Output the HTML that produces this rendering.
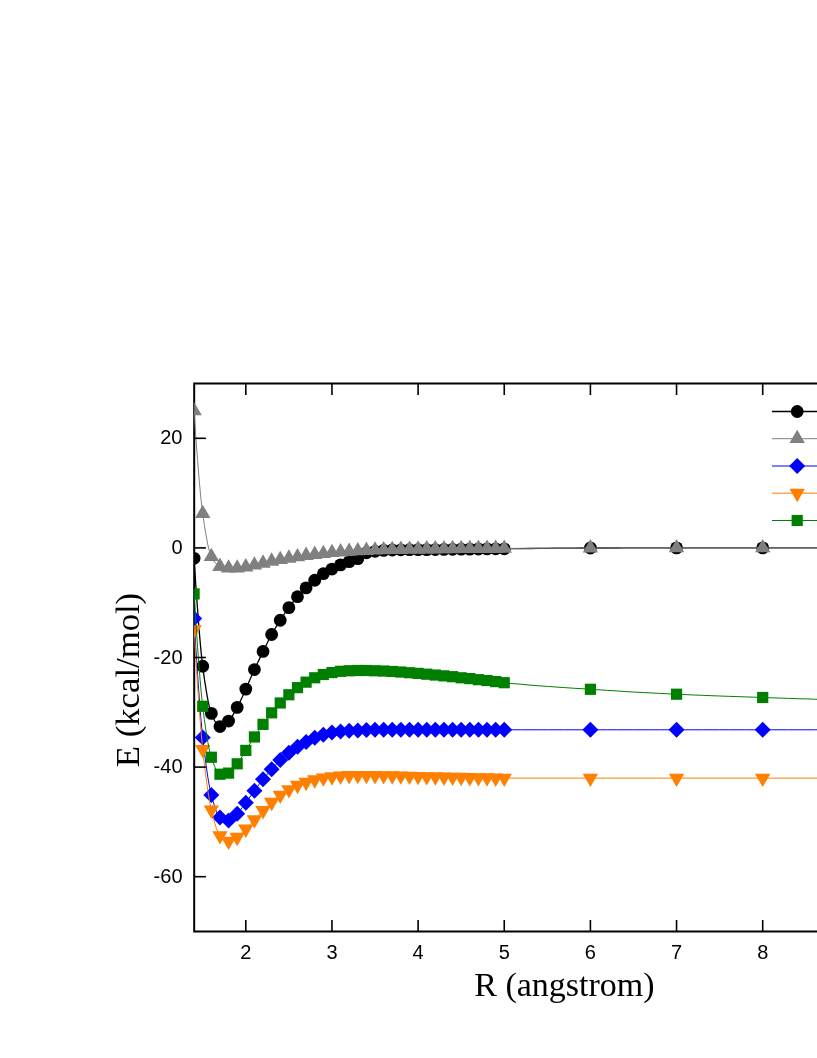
<!DOCTYPE html>
<html><head><meta charset="utf-8"><title>plot</title>
<style>
html,body{margin:0;padding:0;background:#fff;}
body{width:817px;height:1058px;overflow:hidden;}
svg{display:block;will-change:transform;}
.tk{font-family:"Liberation Sans",sans-serif;font-size:20px;fill:#000;}
.ax{font-family:"Liberation Serif",serif;font-size:34px;fill:#000;}
.ay{font-family:"Liberation Serif",serif;font-size:34.7px;fill:#000;}
</style></head><body>
<svg width="817" height="1058" viewBox="0 0 817 1058">
<rect width="817" height="1058" fill="#fff"/>
<defs><clipPath id="c"><rect x="194.20" y="383.50" width="700" height="548.00"/></clipPath></defs>

<path d="M830 383.5H194.2V931.5H830" fill="none" stroke="#000" stroke-width="2"/>
<g clip-path="url(#c)">
<polyline points="194.1,558.3 195.8,585.2 197.6,609.9 199.3,632.1 201.0,651.1 202.7,666.3 204.4,678.9 206.2,690.3 207.9,700.1 209.6,708.0 211.3,713.4 213.1,717.4 214.8,721.0 216.5,723.9 218.2,725.8 220.0,726.5 221.7,726.2 223.4,725.4 225.1,724.1 226.8,722.6 228.6,721.1 230.3,719.1 232.0,716.6 233.7,713.7 235.5,710.5 237.2,707.4 238.9,704.1 240.6,700.5 242.4,696.8 244.1,692.9 245.8,689.1 247.5,685.3 249.2,681.3 251.0,677.3 252.7,673.4 254.4,669.6 256.1,665.8 257.9,662.2 259.6,658.6 261.3,655.0 263.0,651.5 264.8,648.0 266.5,644.5 268.2,641.0 269.9,637.7 271.6,634.5 273.4,631.4 275.1,628.5 276.8,625.7 278.5,622.9 280.3,620.2 282.0,617.6 283.7,615.0 285.4,612.5 287.2,610.0 288.9,607.6 290.6,605.3 292.3,603.0 294.0,600.8 295.8,598.7 297.5,596.7 299.2,594.8 300.9,593.0 302.7,591.2 304.4,589.6 306.1,587.9 307.8,586.3 309.6,584.7 311.3,583.2 313.0,581.7 314.7,580.2 316.4,578.8 318.2,577.4 319.9,576.1 321.6,574.8 323.3,573.7 325.1,572.6 326.8,571.7 328.5,570.8 330.2,569.9 332.0,569.1 333.7,568.2 335.4,567.3 337.1,566.5 338.8,565.7 340.6,564.9 342.3,564.2 344.0,563.5 345.7,562.9 347.5,562.2 349.2,561.6 350.9,561.0 352.6,560.5 354.3,559.9 356.1,559.4 357.8,558.6 359.5,557.6 361.2,556.3 363.0,554.8 364.7,553.6 366.4,552.8 368.1,552.4 369.9,552.1 371.6,551.8 373.3,551.5 375.0,551.3 376.7,551.1 378.5,550.9 380.2,550.7 381.9,550.5 383.6,550.4 385.4,550.3 387.1,550.2 388.8,550.1 390.5,550.0 392.3,550.0 394.0,549.9 395.7,549.9 397.4,549.9 399.1,549.8 400.9,549.8 402.6,549.8 404.3,549.8 406.0,549.7 407.8,549.7 409.5,549.7 411.2,549.7 412.9,549.7 414.7,549.7 416.4,549.7 418.1,549.7 419.8,549.6 421.5,549.6 423.3,549.6 425.0,549.6 426.7,549.6 428.4,549.6 430.2,549.6 431.9,549.6 433.6,549.6 435.3,549.5 437.1,549.5 438.8,549.5 440.5,549.5 442.2,549.5 443.9,549.4 445.7,549.4 447.4,549.4 449.1,549.4 450.8,549.3 452.6,549.3 454.3,549.3 456.0,549.3 457.7,549.3 459.5,549.2 461.2,549.2 462.9,549.2 464.6,549.2 466.3,549.1 468.1,549.1 469.8,549.1 471.5,549.1 473.2,549.1 475.0,549.0 476.7,549.0 478.4,549.0 480.1,549.0 481.9,548.9 483.6,548.9 485.3,548.9 487.0,548.9 488.7,548.9 490.5,548.9 492.2,548.9 493.9,548.8 495.6,548.8 497.4,548.8 499.1,548.8 500.8,548.8 502.5,548.8 504.3,548.8 512.9,548.7 521.5,548.6 530.1,548.5 538.7,548.4 547.3,548.3 555.9,548.2 564.6,548.2 573.2,548.1 581.8,548.0 590.4,548.0 599.0,548.0 607.6,548.0 616.2,548.0 624.9,547.9 633.5,547.9 642.1,547.9 650.7,547.9 659.3,547.9 667.9,547.9 676.5,547.9 685.2,547.9 693.8,547.9 702.4,547.9 711.0,547.9 719.6,547.9 728.2,547.9 736.9,547.9 745.5,547.9 754.1,547.9 762.7,547.9 771.3,547.9 779.9,547.9 788.5,547.9 797.2,547.9 805.8,547.9 814.4,547.9 823.0,547.9 831.6,547.9 840.2,547.9 848.8,547.9" fill="none" stroke="#000000" stroke-width="1.3"/>
<circle cx="194.11" cy="558.31" r="6.4" fill="#000000"/>
<circle cx="202.73" cy="666.27" r="6.4" fill="#000000"/>
<circle cx="211.34" cy="713.40" r="6.4" fill="#000000"/>
<circle cx="219.96" cy="726.55" r="6.4" fill="#000000"/>
<circle cx="228.57" cy="721.07" r="6.4" fill="#000000"/>
<circle cx="237.19" cy="707.37" r="6.4" fill="#000000"/>
<circle cx="245.80" cy="689.12" r="6.4" fill="#000000"/>
<circle cx="254.42" cy="669.56" r="6.4" fill="#000000"/>
<circle cx="263.03" cy="651.47" r="6.4" fill="#000000"/>
<circle cx="271.64" cy="634.48" r="6.4" fill="#000000"/>
<circle cx="280.26" cy="620.24" r="6.4" fill="#000000"/>
<circle cx="288.88" cy="607.63" r="6.4" fill="#000000"/>
<circle cx="297.49" cy="596.67" r="6.4" fill="#000000"/>
<circle cx="306.11" cy="587.90" r="6.4" fill="#000000"/>
<circle cx="314.72" cy="580.23" r="6.4" fill="#000000"/>
<circle cx="323.34" cy="573.66" r="6.4" fill="#000000"/>
<circle cx="331.95" cy="569.05" r="6.4" fill="#000000"/>
<circle cx="340.57" cy="564.89" r="6.4" fill="#000000"/>
<circle cx="349.18" cy="561.60" r="6.4" fill="#000000"/>
<circle cx="357.80" cy="558.64" r="6.4" fill="#000000"/>
<circle cx="366.41" cy="552.83" r="6.4" fill="#000000"/>
<circle cx="375.03" cy="551.30" r="6.4" fill="#000000"/>
<circle cx="383.64" cy="550.37" r="6.4" fill="#000000"/>
<circle cx="392.25" cy="549.98" r="6.4" fill="#000000"/>
<circle cx="400.87" cy="549.82" r="6.4" fill="#000000"/>
<circle cx="409.49" cy="549.71" r="6.4" fill="#000000"/>
<circle cx="418.10" cy="549.65" r="6.4" fill="#000000"/>
<circle cx="426.72" cy="549.60" r="6.4" fill="#000000"/>
<circle cx="435.33" cy="549.54" r="6.4" fill="#000000"/>
<circle cx="443.95" cy="549.43" r="6.4" fill="#000000"/>
<circle cx="452.56" cy="549.32" r="6.4" fill="#000000"/>
<circle cx="461.18" cy="549.22" r="6.4" fill="#000000"/>
<circle cx="469.79" cy="549.11" r="6.4" fill="#000000"/>
<circle cx="478.41" cy="549.00" r="6.4" fill="#000000"/>
<circle cx="487.02" cy="548.89" r="6.4" fill="#000000"/>
<circle cx="495.64" cy="548.83" r="6.4" fill="#000000"/>
<circle cx="504.25" cy="548.78" r="6.4" fill="#000000"/>
<circle cx="590.40" cy="548.01" r="6.4" fill="#000000"/>
<circle cx="676.55" cy="547.90" r="6.4" fill="#000000"/>
<circle cx="762.70" cy="547.90" r="6.4" fill="#000000"/>
<circle cx="848.85" cy="547.90" r="6.4" fill="#000000"/>
<polyline points="194.1,410.9 195.8,436.6 197.6,460.3 199.3,481.5 201.0,499.4 202.7,513.6 204.4,525.4 206.2,536.0 207.9,545.0 209.6,552.1 211.3,556.7 213.1,559.7 214.8,562.2 216.5,564.2 218.2,565.7 220.0,566.5 221.7,567.1 223.4,567.5 225.1,567.9 226.8,568.1 228.6,568.2 230.3,568.2 232.0,568.2 233.7,568.2 235.5,568.2 237.2,568.2 238.9,568.1 240.6,567.9 242.4,567.7 244.1,567.4 245.8,567.1 247.5,566.8 249.2,566.4 251.0,566.0 252.7,565.6 254.4,565.2 256.1,564.8 257.9,564.4 259.6,564.0 261.3,563.6 263.0,563.2 264.8,562.9 266.5,562.5 268.2,562.1 269.9,561.7 271.6,561.3 273.4,561.0 275.1,560.6 276.8,560.3 278.5,560.0 280.3,559.7 282.0,559.4 283.7,559.1 285.4,558.8 287.2,558.6 288.9,558.3 290.6,558.0 292.3,557.8 294.0,557.5 295.8,557.2 297.5,556.9 299.2,556.7 300.9,556.4 302.7,556.1 304.4,555.8 306.1,555.6 307.8,555.3 309.6,555.1 311.3,554.9 313.0,554.7 314.7,554.5 316.4,554.3 318.2,554.1 319.9,554.0 321.6,553.8 323.3,553.7 325.1,553.5 326.8,553.3 328.5,553.1 330.2,552.9 332.0,552.7 333.7,552.6 335.4,552.4 337.1,552.3 338.8,552.1 340.6,552.0 342.3,551.9 344.0,551.8 345.7,551.6 347.5,551.5 349.2,551.4 350.9,551.3 352.6,551.2 354.3,551.1 356.1,551.0 357.8,550.9 359.5,550.8 361.2,550.8 363.0,550.7 364.7,550.6 366.4,550.5 368.1,550.5 369.9,550.4 371.6,550.3 373.3,550.3 375.0,550.2 376.7,550.1 378.5,550.1 380.2,550.0 381.9,550.0 383.6,549.9 385.4,549.9 387.1,549.8 388.8,549.8 390.5,549.7 392.3,549.7 394.0,549.7 395.7,549.6 397.4,549.6 399.1,549.6 400.9,549.5 402.6,549.5 404.3,549.5 406.0,549.4 407.8,549.4 409.5,549.4 411.2,549.4 412.9,549.3 414.7,549.3 416.4,549.3 418.1,549.3 419.8,549.2 421.5,549.2 423.3,549.2 425.0,549.1 426.7,549.1 428.4,549.1 430.2,549.1 431.9,549.0 433.6,549.0 435.3,549.0 437.1,549.0 438.8,548.9 440.5,548.9 442.2,548.9 443.9,548.9 445.7,548.9 447.4,548.9 449.1,548.9 450.8,548.8 452.6,548.8 454.3,548.8 456.0,548.8 457.7,548.8 459.5,548.7 461.2,548.7 462.9,548.7 464.6,548.7 466.3,548.7 468.1,548.7 469.8,548.7 471.5,548.7 473.2,548.6 475.0,548.6 476.7,548.6 478.4,548.6 480.1,548.6 481.9,548.6 483.6,548.6 485.3,548.6 487.0,548.6 488.7,548.5 490.5,548.5 492.2,548.5 493.9,548.5 495.6,548.5 497.4,548.5 499.1,548.5 500.8,548.5 502.5,548.5 504.3,548.4 512.9,548.4 521.5,548.3 530.1,548.3 538.7,548.2 547.3,548.2 555.9,548.1 564.6,548.1 573.2,548.1 581.8,548.0 590.4,548.0 599.0,548.0 607.6,548.0 616.2,548.0 624.9,547.9 633.5,547.9 642.1,547.9 650.7,547.9 659.3,547.9 667.9,547.9 676.5,547.9 685.2,547.9 693.8,547.9 702.4,547.9 711.0,547.9 719.6,547.9 728.2,547.9 736.9,547.9 745.5,547.9 754.1,547.9 762.7,547.9 771.3,547.9 779.9,547.9 788.5,547.9 797.2,547.9 805.8,547.9 814.4,547.9 823.0,547.9 831.6,547.9 840.2,547.9 848.8,547.9" fill="none" stroke="#808080" stroke-width="1"/>
<path d="M194.11 401.90L201.81 415.30L186.41 415.30Z" fill="#808080"/>
<path d="M202.73 504.65L210.43 518.05L195.03 518.05Z" fill="#808080"/>
<path d="M211.34 547.67L219.04 561.07L203.64 561.07Z" fill="#808080"/>
<path d="M219.96 557.53L227.66 570.93L212.26 570.93Z" fill="#808080"/>
<path d="M228.57 559.18L236.27 572.58L220.87 572.58Z" fill="#808080"/>
<path d="M237.19 559.18L244.88 572.58L229.49 572.58Z" fill="#808080"/>
<path d="M245.80 558.08L253.50 571.48L238.10 571.48Z" fill="#808080"/>
<path d="M254.42 556.16L262.12 569.56L246.72 569.56Z" fill="#808080"/>
<path d="M263.03 554.24L270.73 567.64L255.33 567.64Z" fill="#808080"/>
<path d="M271.64 552.33L279.34 565.73L263.94 565.73Z" fill="#808080"/>
<path d="M280.26 550.68L287.96 564.08L272.56 564.08Z" fill="#808080"/>
<path d="M288.88 549.31L296.57 562.71L281.18 562.71Z" fill="#808080"/>
<path d="M297.49 547.94L305.19 561.34L289.79 561.34Z" fill="#808080"/>
<path d="M306.11 546.57L313.81 559.97L298.41 559.97Z" fill="#808080"/>
<path d="M314.72 545.48L322.42 558.88L307.02 558.88Z" fill="#808080"/>
<path d="M323.34 544.65L331.04 558.05L315.64 558.05Z" fill="#808080"/>
<path d="M331.95 543.72L339.65 557.12L324.25 557.12Z" fill="#808080"/>
<path d="M340.57 543.01L348.27 556.41L332.87 556.41Z" fill="#808080"/>
<path d="M349.18 542.41L356.88 555.81L341.48 555.81Z" fill="#808080"/>
<path d="M357.80 541.91L365.50 555.31L350.10 555.31Z" fill="#808080"/>
<path d="M366.41 541.53L374.11 554.93L358.71 554.93Z" fill="#808080"/>
<path d="M375.03 541.20L382.73 554.60L367.33 554.60Z" fill="#808080"/>
<path d="M383.64 540.93L391.34 554.33L375.94 554.33Z" fill="#808080"/>
<path d="M392.25 540.71L399.95 554.11L384.56 554.11Z" fill="#808080"/>
<path d="M400.87 540.54L408.57 553.94L393.17 553.94Z" fill="#808080"/>
<path d="M409.49 540.38L417.19 553.78L401.79 553.78Z" fill="#808080"/>
<path d="M418.10 540.27L425.80 553.67L410.40 553.67Z" fill="#808080"/>
<path d="M426.72 540.11L434.42 553.51L419.02 553.51Z" fill="#808080"/>
<path d="M435.33 540.00L443.03 553.40L427.63 553.40Z" fill="#808080"/>
<path d="M443.95 539.89L451.65 553.29L436.25 553.29Z" fill="#808080"/>
<path d="M452.56 539.83L460.26 553.23L444.86 553.23Z" fill="#808080"/>
<path d="M461.18 539.72L468.88 553.12L453.48 553.12Z" fill="#808080"/>
<path d="M469.79 539.67L477.49 553.07L462.09 553.07Z" fill="#808080"/>
<path d="M478.41 539.61L486.11 553.01L470.71 553.01Z" fill="#808080"/>
<path d="M487.02 539.56L494.72 552.96L479.32 552.96Z" fill="#808080"/>
<path d="M495.64 539.50L503.34 552.90L487.94 552.90Z" fill="#808080"/>
<path d="M504.25 539.45L511.95 552.85L496.55 552.85Z" fill="#808080"/>
<path d="M590.40 539.01L598.10 552.41L582.70 552.41Z" fill="#808080"/>
<path d="M676.55 538.90L684.25 552.30L668.85 552.30Z" fill="#808080"/>
<path d="M762.70 538.90L770.40 552.30L755.00 552.30Z" fill="#808080"/>
<path d="M848.85 538.90L856.55 552.30L841.15 552.30Z" fill="#808080"/>
<polyline points="194.1,618.6 195.8,647.6 197.6,674.5 199.3,698.8 201.0,720.0 202.7,737.5 204.4,752.4 206.2,765.8 207.9,777.6 209.6,787.4 211.3,795.0 213.1,801.4 214.8,807.1 216.5,811.9 218.2,815.5 220.0,817.5 221.7,818.5 223.4,819.3 225.1,820.0 226.8,820.4 228.6,820.5 230.3,820.1 232.0,818.9 233.7,817.3 235.5,815.5 237.2,813.7 238.9,811.8 240.6,809.7 242.4,807.4 244.1,805.1 245.8,802.7 247.5,800.4 249.2,798.0 251.0,795.5 252.7,793.1 254.4,790.7 256.1,788.3 257.9,785.9 259.6,783.6 261.3,781.3 263.0,779.2 264.8,777.1 266.5,775.1 268.2,773.1 269.9,771.2 271.6,769.3 273.4,767.4 275.1,765.4 276.8,763.5 278.5,761.7 280.3,760.0 282.0,758.4 283.7,756.9 285.4,755.5 287.2,754.2 288.9,752.9 290.6,751.6 292.3,750.3 294.0,749.1 295.8,747.9 297.5,746.8 299.2,745.8 300.9,744.7 302.7,743.8 304.4,742.8 306.1,741.9 307.8,741.0 309.6,740.1 311.3,739.3 313.0,738.5 314.7,737.8 316.4,737.1 318.2,736.5 319.9,735.9 321.6,735.3 323.3,734.8 325.1,734.3 326.8,733.8 328.5,733.3 330.2,732.9 332.0,732.6 333.7,732.3 335.4,732.1 337.1,731.9 338.8,731.7 340.6,731.5 342.3,731.3 344.0,731.1 345.7,730.9 347.5,730.8 349.2,730.7 350.9,730.6 352.6,730.5 354.3,730.5 356.1,730.4 357.8,730.4 359.5,730.3 361.2,730.3 363.0,730.2 364.7,730.2 366.4,730.1 368.1,730.0 369.9,730.0 371.6,729.9 373.3,729.9 375.0,729.8 376.7,729.8 378.5,729.8 380.2,729.8 381.9,729.8 383.6,729.8 385.4,729.8 387.1,729.8 388.8,729.8 390.5,729.8 392.3,729.8 394.0,729.8 395.7,729.8 397.4,729.8 399.1,729.8 400.9,729.8 402.6,729.8 404.3,729.8 406.0,729.8 407.8,729.8 409.5,729.8 411.2,729.8 412.9,729.8 414.7,729.8 416.4,729.8 418.1,729.8 419.8,729.8 421.5,729.8 423.3,729.8 425.0,729.8 426.7,729.8 428.4,729.8 430.2,729.8 431.9,729.8 433.6,729.8 435.3,729.8 437.1,729.8 438.8,729.8 440.5,729.8 442.2,729.8 443.9,729.8 445.7,729.8 447.4,729.8 449.1,729.8 450.8,729.8 452.6,729.8 454.3,729.8 456.0,729.8 457.7,729.8 459.5,729.8 461.2,729.8 462.9,729.8 464.6,729.8 466.3,729.8 468.1,729.8 469.8,729.8 471.5,729.8 473.2,729.8 475.0,729.8 476.7,729.8 478.4,729.8 480.1,729.8 481.9,729.8 483.6,729.8 485.3,729.8 487.0,729.8 488.7,729.8 490.5,729.8 492.2,729.8 493.9,729.8 495.6,729.8 497.4,729.8 499.1,729.8 500.8,729.8 502.5,729.8 504.3,729.8 512.9,729.8 521.5,729.8 530.1,729.8 538.7,729.8 547.3,729.8 555.9,729.8 564.6,729.8 573.2,729.8 581.8,729.8 590.4,729.8 599.0,729.8 607.6,729.8 616.2,729.8 624.9,729.8 633.5,729.8 642.1,729.8 650.7,729.8 659.3,729.8 667.9,729.8 676.5,729.8 685.2,729.8 693.8,729.8 702.4,729.8 711.0,729.8 719.6,729.8 728.2,729.8 736.9,729.8 745.5,729.8 754.1,729.8 762.7,729.8 771.3,729.8 779.9,729.8 788.5,729.8 797.2,729.8 805.8,729.8 814.4,729.8 823.0,729.8 831.6,729.8 840.2,729.8 848.8,729.8" fill="none" stroke="#0000ff" stroke-width="1"/>
<path d="M186.11 618.59L194.11 610.59L202.11 618.59L194.11 626.59Z" fill="#0000ff"/>
<path d="M194.73 737.51L202.73 729.51L210.73 737.51L202.73 745.51Z" fill="#0000ff"/>
<path d="M203.34 795.05L211.34 787.05L219.34 795.05L211.34 803.05Z" fill="#0000ff"/>
<path d="M211.96 817.52L219.96 809.52L227.96 817.52L219.96 825.52Z" fill="#0000ff"/>
<path d="M220.57 820.53L228.57 812.53L236.57 820.53L228.57 828.53Z" fill="#0000ff"/>
<path d="M229.19 813.68L237.19 805.68L245.19 813.68L237.19 821.68Z" fill="#0000ff"/>
<path d="M237.80 802.72L245.80 794.72L253.80 802.72L245.80 810.72Z" fill="#0000ff"/>
<path d="M246.42 790.66L254.42 782.66L262.42 790.66L254.42 798.66Z" fill="#0000ff"/>
<path d="M255.03 779.16L263.03 771.16L271.03 779.16L263.03 787.16Z" fill="#0000ff"/>
<path d="M263.64 769.29L271.64 761.29L279.64 769.29L271.64 777.29Z" fill="#0000ff"/>
<path d="M272.26 759.98L280.26 751.98L288.26 759.98L280.26 767.98Z" fill="#0000ff"/>
<path d="M280.88 752.85L288.88 744.85L296.88 752.85L288.88 760.85Z" fill="#0000ff"/>
<path d="M289.49 746.82L297.49 738.82L305.49 746.82L297.49 754.82Z" fill="#0000ff"/>
<path d="M298.11 741.89L306.11 733.89L314.11 741.89L306.11 749.89Z" fill="#0000ff"/>
<path d="M306.72 737.78L314.72 729.78L322.72 737.78L314.72 745.78Z" fill="#0000ff"/>
<path d="M315.34 734.77L323.34 726.77L331.34 734.77L323.34 742.77Z" fill="#0000ff"/>
<path d="M323.95 732.58L331.95 724.58L339.95 732.58L331.95 740.58Z" fill="#0000ff"/>
<path d="M332.57 731.48L340.57 723.48L348.57 731.48L340.57 739.48Z" fill="#0000ff"/>
<path d="M341.18 730.66L349.18 722.66L357.18 730.66L349.18 738.66Z" fill="#0000ff"/>
<path d="M349.80 730.38L357.80 722.38L365.80 730.38L357.80 738.38Z" fill="#0000ff"/>
<path d="M358.41 730.11L366.41 722.11L374.41 730.11L366.41 738.11Z" fill="#0000ff"/>
<path d="M367.03 729.84L375.03 721.84L383.03 729.84L375.03 737.84Z" fill="#0000ff"/>
<path d="M375.64 729.84L383.64 721.84L391.64 729.84L383.64 737.84Z" fill="#0000ff"/>
<path d="M384.25 729.84L392.25 721.84L400.25 729.84L392.25 737.84Z" fill="#0000ff"/>
<path d="M392.87 729.84L400.87 721.84L408.87 729.84L400.87 737.84Z" fill="#0000ff"/>
<path d="M401.49 729.84L409.49 721.84L417.49 729.84L409.49 737.84Z" fill="#0000ff"/>
<path d="M410.10 729.84L418.10 721.84L426.10 729.84L418.10 737.84Z" fill="#0000ff"/>
<path d="M418.72 729.84L426.72 721.84L434.72 729.84L426.72 737.84Z" fill="#0000ff"/>
<path d="M427.33 729.84L435.33 721.84L443.33 729.84L435.33 737.84Z" fill="#0000ff"/>
<path d="M435.95 729.84L443.95 721.84L451.95 729.84L443.95 737.84Z" fill="#0000ff"/>
<path d="M444.56 729.84L452.56 721.84L460.56 729.84L452.56 737.84Z" fill="#0000ff"/>
<path d="M453.18 729.84L461.18 721.84L469.18 729.84L461.18 737.84Z" fill="#0000ff"/>
<path d="M461.79 729.84L469.79 721.84L477.79 729.84L469.79 737.84Z" fill="#0000ff"/>
<path d="M470.41 729.84L478.41 721.84L486.41 729.84L478.41 737.84Z" fill="#0000ff"/>
<path d="M479.02 729.84L487.02 721.84L495.02 729.84L487.02 737.84Z" fill="#0000ff"/>
<path d="M487.64 729.84L495.64 721.84L503.64 729.84L495.64 737.84Z" fill="#0000ff"/>
<path d="M496.25 729.84L504.25 721.84L512.25 729.84L504.25 737.84Z" fill="#0000ff"/>
<path d="M582.40 729.84L590.40 721.84L598.40 729.84L590.40 737.84Z" fill="#0000ff"/>
<path d="M668.55 729.84L676.55 721.84L684.55 729.84L676.55 737.84Z" fill="#0000ff"/>
<path d="M754.70 729.84L762.70 721.84L770.70 729.84L762.70 737.84Z" fill="#0000ff"/>
<path d="M840.85 729.84L848.85 721.84L856.85 729.84L848.85 737.84Z" fill="#0000ff"/>
<polyline points="194.1,629.6 195.8,658.5 197.6,685.5 199.3,709.9 201.0,731.3 202.7,749.3 204.4,764.7 206.2,778.7 207.9,791.0 209.6,801.5 211.3,809.8 213.1,816.9 214.8,823.2 216.5,828.7 218.2,832.9 220.0,835.6 221.7,837.3 223.4,838.8 225.1,840.0 226.8,840.8 228.6,841.1 230.3,840.8 232.0,840.2 233.7,839.3 235.5,838.3 237.2,837.2 238.9,836.0 240.6,834.4 242.4,832.7 244.1,830.8 245.8,829.0 247.5,827.2 249.2,825.4 251.0,823.5 252.7,821.6 254.4,819.7 256.1,817.8 257.9,815.9 259.6,814.0 261.3,812.2 263.0,810.4 264.8,808.7 266.5,807.0 268.2,805.3 269.9,803.7 271.6,802.2 273.4,800.7 275.1,799.2 276.8,797.7 278.5,796.3 280.3,795.0 282.0,793.8 283.7,792.7 285.4,791.6 287.2,790.6 288.9,789.6 290.6,788.6 292.3,787.7 294.0,786.8 295.8,785.9 297.5,785.2 299.2,784.5 300.9,783.9 302.7,783.3 304.4,782.7 306.1,782.2 307.8,781.6 309.6,781.1 311.3,780.6 313.0,780.1 314.7,779.7 316.4,779.3 318.2,778.9 319.9,778.5 321.6,778.1 323.3,777.8 325.1,777.5 326.8,777.3 328.5,777.1 330.2,776.9 332.0,776.7 333.7,776.5 335.4,776.4 337.1,776.2 338.8,776.1 340.6,776.0 342.3,775.9 344.0,775.7 345.7,775.6 347.5,775.5 349.2,775.5 350.9,775.4 352.6,775.4 354.3,775.4 356.1,775.3 357.8,775.3 359.5,775.3 361.2,775.3 363.0,775.3 364.7,775.3 366.4,775.3 368.1,775.3 369.9,775.3 371.6,775.4 373.3,775.4 375.0,775.4 376.7,775.5 378.5,775.5 380.2,775.5 381.9,775.5 383.6,775.5 385.4,775.6 387.1,775.6 388.8,775.6 390.5,775.7 392.3,775.7 394.0,775.7 395.7,775.8 397.4,775.8 399.1,775.8 400.9,775.9 402.6,775.9 404.3,776.0 406.0,776.0 407.8,776.0 409.5,776.1 411.2,776.1 412.9,776.2 414.7,776.2 416.4,776.3 418.1,776.3 419.8,776.4 421.5,776.4 423.3,776.4 425.0,776.5 426.7,776.5 428.4,776.6 430.2,776.6 431.9,776.6 433.6,776.7 435.3,776.7 437.1,776.7 438.8,776.8 440.5,776.8 442.2,776.9 443.9,776.9 445.7,776.9 447.4,777.0 449.1,777.0 450.8,777.0 452.6,777.1 454.3,777.1 456.0,777.1 457.7,777.2 459.5,777.2 461.2,777.2 462.9,777.3 464.6,777.3 466.3,777.3 468.1,777.4 469.8,777.4 471.5,777.4 473.2,777.5 475.0,777.5 476.7,777.5 478.4,777.6 480.1,777.6 481.9,777.6 483.6,777.7 485.3,777.7 487.0,777.7 488.7,777.8 490.5,777.8 492.2,777.8 493.9,777.9 495.6,777.9 497.4,777.9 499.1,778.0 500.8,778.0 502.5,778.0 504.3,778.1 512.9,778.1 521.5,778.1 530.1,778.1 538.7,778.1 547.3,778.1 555.9,778.1 564.6,778.1 573.2,778.1 581.8,778.1 590.4,778.1 599.0,778.1 607.6,778.1 616.2,778.1 624.9,778.1 633.5,778.1 642.1,778.1 650.7,778.1 659.3,778.1 667.9,778.1 676.5,778.1 685.2,778.1 693.8,778.1 702.4,778.1 711.0,778.1 719.6,778.1 728.2,778.1 736.9,778.1 745.5,778.1 754.1,778.1 762.7,778.1 771.3,778.1 779.9,778.1 788.5,778.1 797.2,778.1 805.8,778.1 814.4,778.1 823.0,778.1 831.6,778.1 840.2,778.1 848.8,778.1" fill="none" stroke="#ff7f00" stroke-width="1"/>
<path d="M194.11 638.55L201.81 625.15L186.41 625.15Z" fill="#ff7f00"/>
<path d="M202.73 758.29L210.43 744.89L195.03 744.89Z" fill="#ff7f00"/>
<path d="M211.34 818.84L219.04 805.44L203.64 805.44Z" fill="#ff7f00"/>
<path d="M219.96 844.60L227.66 831.20L212.26 831.20Z" fill="#ff7f00"/>
<path d="M228.57 850.08L236.27 836.68L220.87 836.68Z" fill="#ff7f00"/>
<path d="M237.19 846.24L244.88 832.84L229.49 832.84Z" fill="#ff7f00"/>
<path d="M245.80 838.02L253.50 824.62L238.10 824.62Z" fill="#ff7f00"/>
<path d="M254.42 828.71L262.12 815.31L246.72 815.31Z" fill="#ff7f00"/>
<path d="M263.03 819.39L270.73 805.99L255.33 805.99Z" fill="#ff7f00"/>
<path d="M271.64 811.17L279.34 797.77L263.94 797.77Z" fill="#ff7f00"/>
<path d="M280.26 804.05L287.96 790.65L272.56 790.65Z" fill="#ff7f00"/>
<path d="M288.88 798.57L296.57 785.17L281.18 785.17Z" fill="#ff7f00"/>
<path d="M297.49 794.18L305.19 780.78L289.79 780.78Z" fill="#ff7f00"/>
<path d="M306.11 791.17L313.81 777.77L298.41 777.77Z" fill="#ff7f00"/>
<path d="M314.72 788.70L322.42 775.30L307.02 775.30Z" fill="#ff7f00"/>
<path d="M323.34 786.79L331.04 773.39L315.64 773.39Z" fill="#ff7f00"/>
<path d="M331.95 785.69L339.65 772.29L324.25 772.29Z" fill="#ff7f00"/>
<path d="M340.57 784.98L348.27 771.58L332.87 771.58Z" fill="#ff7f00"/>
<path d="M349.18 784.48L356.88 771.08L341.48 771.08Z" fill="#ff7f00"/>
<path d="M357.80 784.32L365.50 770.92L350.10 770.92Z" fill="#ff7f00"/>
<path d="M366.41 784.32L374.11 770.92L358.71 770.92Z" fill="#ff7f00"/>
<path d="M375.03 784.43L382.73 771.03L367.33 771.03Z" fill="#ff7f00"/>
<path d="M383.64 784.54L391.34 771.14L375.94 771.14Z" fill="#ff7f00"/>
<path d="M392.25 784.70L399.95 771.30L384.56 771.30Z" fill="#ff7f00"/>
<path d="M400.87 784.87L408.57 771.47L393.17 771.47Z" fill="#ff7f00"/>
<path d="M409.49 785.09L417.19 771.69L401.79 771.69Z" fill="#ff7f00"/>
<path d="M418.10 785.31L425.80 771.91L410.40 771.91Z" fill="#ff7f00"/>
<path d="M426.72 785.53L434.42 772.13L419.02 772.13Z" fill="#ff7f00"/>
<path d="M435.33 785.69L443.03 772.29L427.63 772.29Z" fill="#ff7f00"/>
<path d="M443.95 785.91L451.65 772.51L436.25 772.51Z" fill="#ff7f00"/>
<path d="M452.56 786.07L460.26 772.67L444.86 772.67Z" fill="#ff7f00"/>
<path d="M461.18 786.24L468.88 772.84L453.48 772.84Z" fill="#ff7f00"/>
<path d="M469.79 786.40L477.49 773.00L462.09 773.00Z" fill="#ff7f00"/>
<path d="M478.41 786.57L486.11 773.17L470.71 773.17Z" fill="#ff7f00"/>
<path d="M487.02 786.73L494.72 773.33L479.32 773.33Z" fill="#ff7f00"/>
<path d="M495.64 786.90L503.34 773.50L487.94 773.50Z" fill="#ff7f00"/>
<path d="M504.25 787.06L511.95 773.66L496.55 773.66Z" fill="#ff7f00"/>
<path d="M590.40 787.06L598.10 773.66L582.70 773.66Z" fill="#ff7f00"/>
<path d="M676.55 787.06L684.25 773.66L668.85 773.66Z" fill="#ff7f00"/>
<path d="M762.70 787.06L770.40 773.66L755.00 773.66Z" fill="#ff7f00"/>
<path d="M848.85 787.06L856.55 773.66L841.15 773.66Z" fill="#ff7f00"/>
<polyline points="194.1,593.9 195.8,621.7 197.6,647.3 199.3,670.4 201.0,690.2 202.7,706.3 204.4,719.7 206.2,731.9 207.9,742.4 209.6,750.9 211.3,757.2 213.1,762.3 214.8,766.9 216.5,770.7 218.2,773.3 220.0,774.2 221.7,774.2 223.4,774.0 225.1,773.8 226.8,773.5 228.6,773.1 230.3,772.3 232.0,770.6 233.7,768.5 235.5,766.1 237.2,763.8 238.9,761.4 240.6,758.8 242.4,756.0 244.1,753.1 245.8,750.4 247.5,747.7 249.2,745.0 251.0,742.3 252.7,739.6 254.4,737.0 256.1,734.4 257.9,731.8 259.6,729.3 261.3,726.8 263.0,724.4 264.8,722.0 266.5,719.6 268.2,717.3 269.9,715.0 271.6,712.8 273.4,710.7 275.1,708.7 276.8,706.7 278.5,704.8 280.3,703.0 282.0,701.2 283.7,699.5 285.4,697.9 287.2,696.3 288.9,694.8 290.6,693.2 292.3,691.8 294.0,690.3 295.8,688.9 297.5,687.6 299.2,686.4 300.9,685.3 302.7,684.2 304.4,683.2 306.1,682.2 307.8,681.2 309.6,680.3 311.3,679.4 313.0,678.6 314.7,677.8 316.4,677.0 318.2,676.3 319.9,675.6 321.6,675.0 323.3,674.5 325.1,674.0 326.8,673.6 328.5,673.2 330.2,672.9 332.0,672.6 333.7,672.3 335.4,672.0 337.1,671.7 338.8,671.5 340.6,671.3 342.3,671.2 344.0,671.0 345.7,670.9 347.5,670.8 349.2,670.8 350.9,670.7 352.6,670.6 354.3,670.5 356.1,670.5 357.8,670.5 359.5,670.5 361.2,670.5 363.0,670.5 364.7,670.5 366.4,670.5 368.1,670.5 369.9,670.6 371.6,670.6 373.3,670.7 375.0,670.8 376.7,670.8 378.5,670.9 380.2,670.9 381.9,671.0 383.6,671.0 385.4,671.1 387.1,671.2 388.8,671.3 390.5,671.4 392.3,671.5 394.0,671.6 395.7,671.7 397.4,671.8 399.1,671.9 400.9,672.0 402.6,672.2 404.3,672.3 406.0,672.4 407.8,672.6 409.5,672.7 411.2,672.9 412.9,673.0 414.7,673.1 416.4,673.3 418.1,673.4 419.8,673.5 421.5,673.7 423.3,673.9 425.0,674.0 426.7,674.2 428.4,674.4 430.2,674.5 431.9,674.7 433.6,674.9 435.3,675.0 437.1,675.2 438.8,675.4 440.5,675.5 442.2,675.7 443.9,675.9 445.7,676.0 447.4,676.2 449.1,676.3 450.8,676.5 452.6,676.7 454.3,676.9 456.0,677.1 457.7,677.3 459.5,677.6 461.2,677.8 462.9,678.0 464.6,678.1 466.3,678.3 468.1,678.4 469.8,678.6 471.5,678.8 473.2,679.0 475.0,679.3 476.7,679.5 478.4,679.7 480.1,679.9 481.9,680.0 483.6,680.2 485.3,680.3 487.0,680.5 488.7,680.7 490.5,680.9 492.2,681.2 493.9,681.4 495.6,681.6 497.4,681.8 499.1,682.1 500.8,682.3 502.5,682.5 504.3,682.7 512.9,683.6 521.5,684.3 530.1,685.1 538.7,685.8 547.3,686.4 555.9,687.0 564.6,687.6 573.2,688.2 581.8,688.7 590.4,689.3 599.0,689.8 607.6,690.4 616.2,690.9 624.9,691.5 633.5,692.0 642.1,692.5 650.7,692.9 659.3,693.4 667.9,693.8 676.5,694.2 685.2,694.6 693.8,695.0 702.4,695.3 711.0,695.7 719.6,696.0 728.2,696.3 736.9,696.6 745.5,696.9 754.1,697.2 762.7,697.5 771.3,697.8 779.9,698.1 788.5,698.4 797.2,698.7 805.8,698.9 814.4,699.2 823.0,699.5 831.6,699.7 840.2,700.0 848.8,700.2" fill="none" stroke="#007f00" stroke-width="1"/>
<rect x="188.51" y="588.33" width="11.2" height="11.2" fill="#007f00"/>
<rect x="197.13" y="700.67" width="11.2" height="11.2" fill="#007f00"/>
<rect x="205.74" y="751.64" width="11.2" height="11.2" fill="#007f00"/>
<rect x="214.36" y="768.62" width="11.2" height="11.2" fill="#007f00"/>
<rect x="222.97" y="767.53" width="11.2" height="11.2" fill="#007f00"/>
<rect x="231.59" y="758.21" width="11.2" height="11.2" fill="#007f00"/>
<rect x="240.20" y="744.79" width="11.2" height="11.2" fill="#007f00"/>
<rect x="248.82" y="731.36" width="11.2" height="11.2" fill="#007f00"/>
<rect x="257.43" y="718.76" width="11.2" height="11.2" fill="#007f00"/>
<rect x="266.04" y="707.25" width="11.2" height="11.2" fill="#007f00"/>
<rect x="274.66" y="697.38" width="11.2" height="11.2" fill="#007f00"/>
<rect x="283.27" y="689.16" width="11.2" height="11.2" fill="#007f00"/>
<rect x="291.89" y="682.04" width="11.2" height="11.2" fill="#007f00"/>
<rect x="300.50" y="676.56" width="11.2" height="11.2" fill="#007f00"/>
<rect x="309.12" y="672.18" width="11.2" height="11.2" fill="#007f00"/>
<rect x="317.74" y="668.89" width="11.2" height="11.2" fill="#007f00"/>
<rect x="326.35" y="666.97" width="11.2" height="11.2" fill="#007f00"/>
<rect x="334.97" y="665.71" width="11.2" height="11.2" fill="#007f00"/>
<rect x="343.58" y="665.16" width="11.2" height="11.2" fill="#007f00"/>
<rect x="352.19" y="664.89" width="11.2" height="11.2" fill="#007f00"/>
<rect x="360.81" y="664.89" width="11.2" height="11.2" fill="#007f00"/>
<rect x="369.43" y="665.16" width="11.2" height="11.2" fill="#007f00"/>
<rect x="378.04" y="665.44" width="11.2" height="11.2" fill="#007f00"/>
<rect x="386.65" y="665.87" width="11.2" height="11.2" fill="#007f00"/>
<rect x="395.27" y="666.42" width="11.2" height="11.2" fill="#007f00"/>
<rect x="403.88" y="667.13" width="11.2" height="11.2" fill="#007f00"/>
<rect x="412.50" y="667.79" width="11.2" height="11.2" fill="#007f00"/>
<rect x="421.12" y="668.61" width="11.2" height="11.2" fill="#007f00"/>
<rect x="429.73" y="669.44" width="11.2" height="11.2" fill="#007f00"/>
<rect x="438.35" y="670.26" width="11.2" height="11.2" fill="#007f00"/>
<rect x="446.96" y="671.08" width="11.2" height="11.2" fill="#007f00"/>
<rect x="455.57" y="672.18" width="11.2" height="11.2" fill="#007f00"/>
<rect x="464.19" y="673.00" width="11.2" height="11.2" fill="#007f00"/>
<rect x="472.81" y="674.09" width="11.2" height="11.2" fill="#007f00"/>
<rect x="481.42" y="674.92" width="11.2" height="11.2" fill="#007f00"/>
<rect x="490.04" y="676.01" width="11.2" height="11.2" fill="#007f00"/>
<rect x="498.65" y="677.11" width="11.2" height="11.2" fill="#007f00"/>
<rect x="584.80" y="683.68" width="11.2" height="11.2" fill="#007f00"/>
<rect x="670.95" y="688.62" width="11.2" height="11.2" fill="#007f00"/>
<rect x="757.10" y="691.90" width="11.2" height="11.2" fill="#007f00"/>
<rect x="843.25" y="694.64" width="11.2" height="11.2" fill="#007f00"/>
</g>
<path d="M245.80 383.5v11.5M245.80 931.5v-11.5" stroke="#000" stroke-width="1.6"/>
<text class="tk" x="245.80" y="959" text-anchor="middle">2</text>
<path d="M331.95 383.5v11.5M331.95 931.5v-11.5" stroke="#000" stroke-width="1.6"/>
<text class="tk" x="331.95" y="959" text-anchor="middle">3</text>
<path d="M418.10 383.5v11.5M418.10 931.5v-11.5" stroke="#000" stroke-width="1.6"/>
<text class="tk" x="418.10" y="959" text-anchor="middle">4</text>
<path d="M504.25 383.5v11.5M504.25 931.5v-11.5" stroke="#000" stroke-width="1.6"/>
<text class="tk" x="504.25" y="959" text-anchor="middle">5</text>
<path d="M590.40 383.5v11.5M590.40 931.5v-11.5" stroke="#000" stroke-width="1.6"/>
<text class="tk" x="590.40" y="959" text-anchor="middle">6</text>
<path d="M676.55 383.5v11.5M676.55 931.5v-11.5" stroke="#000" stroke-width="1.6"/>
<text class="tk" x="676.55" y="959" text-anchor="middle">7</text>
<path d="M762.70 383.5v11.5M762.70 931.5v-11.5" stroke="#000" stroke-width="1.6"/>
<text class="tk" x="762.70" y="959" text-anchor="middle">8</text>
<path d="M194.2 438.30h11.7" stroke="#000" stroke-width="1.6"/>
<text class="tk" x="182.5" y="444.30" text-anchor="end">20</text>
<path d="M194.2 547.90h11.7" stroke="#000" stroke-width="1.6"/>
<text class="tk" x="182.5" y="553.90" text-anchor="end">0</text>
<path d="M194.2 657.50h11.7" stroke="#000" stroke-width="1.6"/>
<text class="tk" x="182.5" y="663.50" text-anchor="end">-20</text>
<path d="M194.2 767.10h11.7" stroke="#000" stroke-width="1.6"/>
<text class="tk" x="182.5" y="773.10" text-anchor="end">-40</text>
<path d="M194.2 876.70h11.7" stroke="#000" stroke-width="1.6"/>
<text class="tk" x="182.5" y="882.70" text-anchor="end">-60</text>
<path d="M772 411.5H830" stroke="#000000" stroke-width="1.3"/>
<circle cx="797.20" cy="411.50" r="6.4" fill="#000000"/>
<path d="M772 438.7H830" stroke="#808080" stroke-width="1"/>
<path d="M797.20 429.70L804.90 443.10L789.50 443.10Z" fill="#808080"/>
<path d="M772 466H830" stroke="#0000ff" stroke-width="1"/>
<path d="M789.20 466.00L797.20 458.00L805.20 466.00L797.20 474.00Z" fill="#0000ff"/>
<path d="M772 493.2H830" stroke="#ff7f00" stroke-width="1"/>
<path d="M797.20 502.20L804.90 488.80L789.50 488.80Z" fill="#ff7f00"/>
<path d="M772 520.5H830" stroke="#007f00" stroke-width="1"/>
<rect x="791.60" y="514.90" width="11.2" height="11.2" fill="#007f00"/>
<text class="ax" x="564.4" y="996.2" text-anchor="middle">R (angstrom)</text>
<text class="ay" transform="translate(138.8,680) rotate(-90)" text-anchor="middle">E (kcal/mol)</text>
</svg></body></html>
